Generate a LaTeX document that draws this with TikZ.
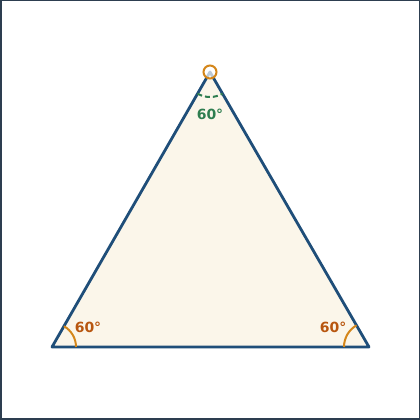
\documentclass[tikz,border=0pt]{standalone}
\usepackage{fontspec}
\setmainfont{DejaVu Sans}
\begin{document}
\begin{tikzpicture}[x=1pt,y=1pt,
  tri/.style={draw=triblue,line width=2.8pt,fill=trifill,line join=round},
  angarc/.style={draw=angorange,line width=2pt},
  toparc/.style={draw=anggreen,line width=2pt,dash pattern=on 5pt off 3pt},
  anglabel/.style={font=\bfseries\fontsize{14}{16}\selectfont,inner sep=0pt},
  vmark/.style={circle,draw=angorange,line width=2pt,fill=white,fill opacity=0.7,minimum size=13pt,inner sep=0pt}]
\definecolor{triblue}{HTML}{1F4E79}
\definecolor{trifill}{HTML}{FBF6EA}
\definecolor{angorange}{HTML}{D4861A}
\definecolor{lblorange}{HTML}{B8560F}
\definecolor{anggreen}{HTML}{2E7D4F}
\definecolor{framec}{HTML}{2D3E50}
\useasboundingbox (0,0) rectangle (420,420);
\draw[framec,line width=1.5pt,fill=white] (0.75,0.75) rectangle (419.25,419.25);
\coordinate (A) at (210,348);
\coordinate (B) at (52,73);
\coordinate (C) at (369,73);
\draw[tri] (A) -- (B) -- (C) -- cycle;
\draw[angarc] ([shift={(0:24)}]B) arc[start angle=0,end angle=60,radius=24];
\draw[angarc] ([shift={(120:25)}]C) arc[start angle=120,end angle=180,radius=25];
\draw[toparc] ([shift={(240:25)}]A) arc[start angle=240,end angle=300,radius=25];
\node[vmark] (apexmark) at (A) {};
\node[anglabel,text=anggreen] (la) at (210,306) {60°};
\node[anglabel,text=lblorange] (lb) at (88,93) {60°};
\node[anglabel,text=lblorange] (lc) at (333,93) {60°};
\end{tikzpicture}
\end{document}
